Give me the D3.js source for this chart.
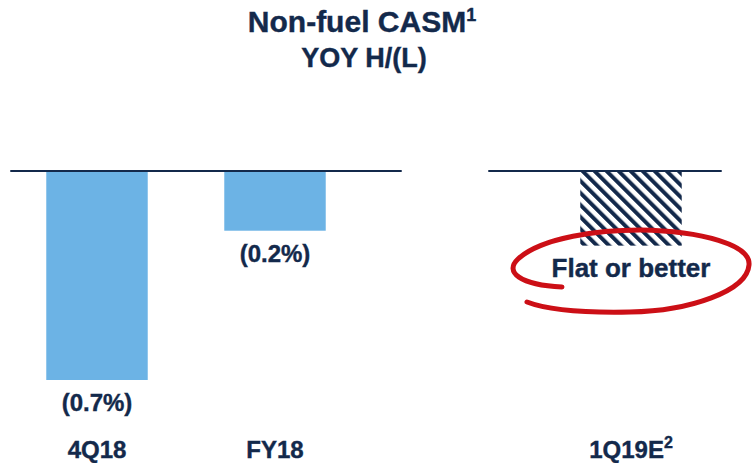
<!DOCTYPE html>
<html lang="en">
<head>
  <meta charset="UTF-8">
  <title>Non-fuel CASM</title>
  <script src="https://d3js.org/d3.v7.min.js"></script>
  <style>
    body {
      margin: 0;
      background-color: #fff;
    }
    svg {
      display: block;
      font-family: Arial, "Liberation Sans", sans-serif;
      font-weight: bold;
    }
    .navy {
      fill: #13294b;
      stroke: #13294b;
      stroke-width: 0.4px;
    }
  </style>
</head>
<body>
  <div id="chart"></div>

  <script>
    // Data
    const categories = ['4Q18', 'FY18', '', '1Q19E'];
    const values = [-0.7, -0.2, null, null];
    const valueLabels = ['(0.7%)', '(0.2%)', '', ''];
    const footnotes = ['', '', '', '2'];
    // guidance box (hatched) for 1Q19E
    const guidanceValue = -0.25;
    const guidanceLabel = 'Flat or better';

    const width = 752;
    const height = 463;
    const navy = '#13294b';
    const blue = '#6cb3e5';
    const red = '#cc0f16';

    const svg = d3.select('#chart')
      .append('svg')
      .attr('width', width)
      .attr('height', height);

    // Hatch pattern for the estimate
    const defs = svg.append('defs');
    const pattern = defs.append('pattern')
      .attr('id', 'hatch')
      .attr('patternUnits', 'userSpaceOnUse')
      .attr('width', 8.5)
      .attr('height', 8.5)
      .attr('patternTransform', 'rotate(-45)');
    pattern.append('rect')
      .attr('width', 8.5)
      .attr('height', 8.5)
      .attr('fill', '#fff');
    pattern.append('rect')
      .attr('width', 4)
      .attr('height', 8.5)
      .attr('fill', navy);

    // Scales
    const x = d3.scaleBand()
      .domain(categories)
      .range([8, 720])
      .paddingInner(0.43)
      .paddingOuter(0.215);

    const y = d3.scaleLinear()
      .domain([0, -0.7])
      .range([171, 380]);

    // Title
    svg.append('text')
      .attr('class', 'navy')
      .attr('x', 362)
      .attr('y', 32)
      .attr('text-anchor', 'middle')
      .style('font-size', '30px')
      .text('Non-fuel CASM')
      .append('tspan')
      .attr('dy', -11)
      .style('font-size', '18px')
      .text('1');

    svg.append('text')
      .attr('class', 'navy')
      .attr('x', 364)
      .attr('y', 67)
      .attr('text-anchor', 'middle')
      .style('font-size', '27px')
      .text('YOY H/(L)');

    // Bars
    const barData = categories.map((c, i) => ({ cat: c, value: values[i], label: valueLabels[i] }))
      .filter(d => d.value !== null);

    svg.selectAll('.bar')
      .data(barData)
      .join('rect')
      .attr('class', 'bar')
      .attr('x', d => x(d.cat))
      .attr('y', y(0))
      .attr('width', x.bandwidth())
      .attr('height', d => y(d.value) - y(0))
      .attr('fill', blue);

    svg.selectAll('.value-label')
      .data(barData)
      .join('text')
      .attr('class', 'value-label navy')
      .attr('x', d => x(d.cat) + x.bandwidth() / 2)
      .attr('y', d => y(d.value) + 31)
      .attr('text-anchor', 'middle')
      .style('font-size', '24px')
      .text(d => d.label);

    // Hatched guidance box
    svg.append('rect')
      .attr('x', x('1Q19E'))
      .attr('y', y(0))
      .attr('width', x.bandwidth())
      .attr('height', y(guidanceValue) - y(0))
      .attr('fill', 'url(#hatch)');

    // Zero lines (two segments)
    svg.append('line')
      .attr('x1', x('4Q18') - 36)
      .attr('x2', x('FY18') + x.bandwidth() + 76)
      .attr('y1', y(0))
      .attr('y2', y(0))
      .attr('stroke', navy)
      .attr('stroke-width', 2);

    svg.append('line')
      .attr('x1', x('1Q19E') - 92)
      .attr('x2', x('1Q19E') + x.bandwidth() + 40)
      .attr('y1', y(0))
      .attr('y2', y(0))
      .attr('stroke', navy)
      .attr('stroke-width', 2);

    // Guidance text with hand-drawn red circle
    const gx = x('1Q19E') + x.bandwidth() / 2;
    svg.append('text')
      .attr('class', 'navy')
      .attr('x', gx)
      .attr('y', 277)
      .attr('text-anchor', 'middle')
      .style('font-size', '26px')
      .text(guidanceLabel);

    svg.append('path')
      .attr('d', 'M562,287 C520,285 504,272 518,259 C542,237 600,230 640,230 ' +
        'C702,231 751,245 749,265 C747,291 690,311 630,312 C580,313 545,309 527,302')
      .attr('fill', 'none')
      .attr('stroke', red)
      .attr('stroke-width', 5)
      .attr('stroke-linecap', 'round');

    // Category labels
    const catLabels = svg.selectAll('.cat-label')
      .data(categories.filter(c => c !== ''))
      .join('text')
      .attr('class', 'cat-label navy')
      .attr('x', d => x(d) + x.bandwidth() / 2)
      .attr('y', 458)
      .attr('text-anchor', 'middle')
      .style('font-size', '24px')
      .text(d => d);

    catLabels.filter(d => footnotes[categories.indexOf(d)] !== '')
      .append('tspan')
      .attr('dy', -10)
      .style('font-size', '16px')
      .text(d => footnotes[categories.indexOf(d)]);
  </script>
</body>
</html>
